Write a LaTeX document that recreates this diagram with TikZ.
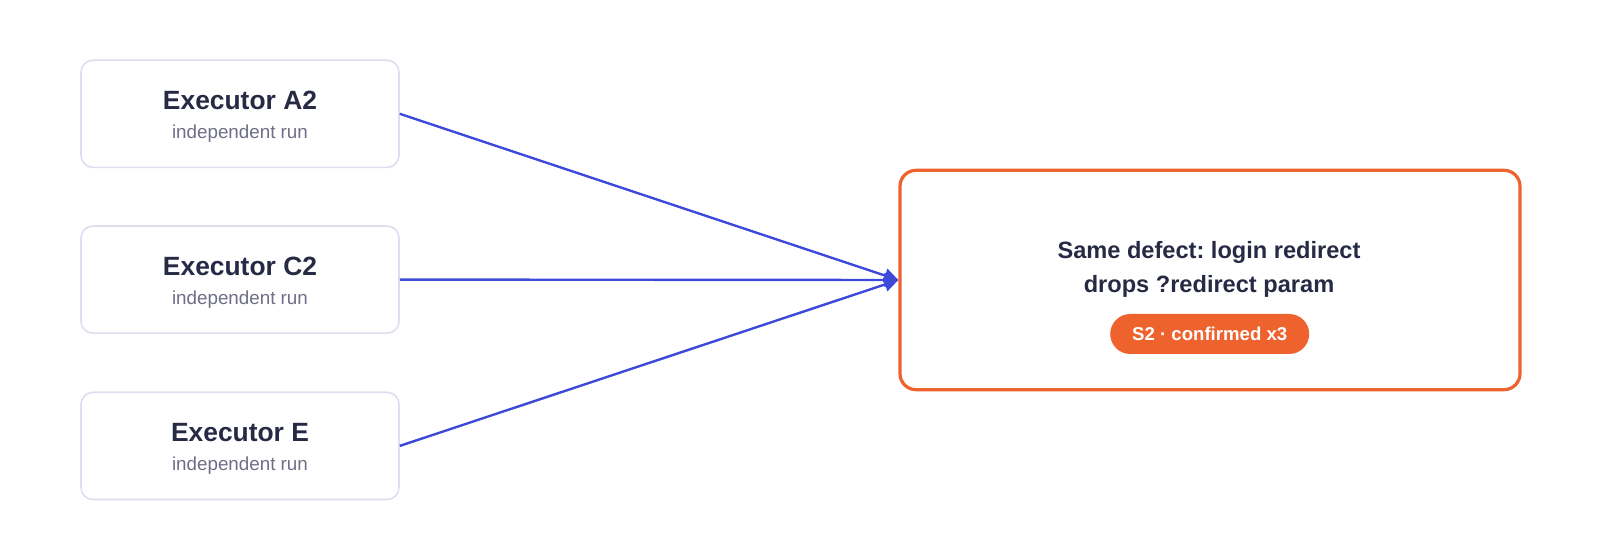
\documentclass[tikz,border=0pt]{standalone}
\usepackage{fontspec}
\setmainfont{Liberation Sans}
\usepackage{tikz}
\usetikzlibrary{arrows.meta}
\usetikzlibrary{positioning}
\usepackage{xcolor}
\frenchspacing

\definecolor{inkdark}{HTML}{272A44}
\definecolor{inkgray}{HTML}{6E6E88}
\definecolor{boxline}{HTML}{DEDEF0}
\definecolor{flowblue}{HTML}{3D4AD9}
\definecolor{defectorange}{HTML}{EE622E}

\newcommand{\exectext}[1]{{\fontsize{13.2}{14}\selectfont\bfseries\color{inkdark}\rule{0pt}{12.2pt}#1}\\[2.6pt]
	{\fontsize{9.4}{14.2}\selectfont\color{inkgray}independent run}}

\begin{document}
\begin{tikzpicture}[x=0.5pt,y=-0.5pt]
		\tikzstyle{execbox} = [draw=boxline, line width=0.8pt, rounded corners=6pt, fill=white,
			minimum width=159pt, minimum height=53.6pt, align=center, inner sep=0pt]
		\tikzstyle{defectbox} = [draw=defectorange, line width=1.6pt, rounded corners=8pt, fill=white,
			minimum width=310pt, minimum height=109.7pt, inner sep=0pt]
		\tikzstyle{badge} = [fill=defectorange, rounded corners=10pt, minimum width=99.5pt,
			minimum height=20pt, inner sep=0pt, text=white, font=\fontsize{9.3}{11}\selectfont\bfseries]
		\tikzstyle{flow} = [line width=1.2pt, flowblue, -{Triangle[length=7pt,width=7pt]}]

		\useasboundingbox (0,0) rectangle (1600,560);

		\node[execbox] (a2) at (240,113.8) {\exectext{Executor A2}};
		\node[execbox] (c2) at (240,279.6) {\exectext{Executor C2}};
		\node[execbox] (e) at (240,445.9) {\exectext{Executor E}};

		\node[defectbox] (defect) at (1210,280) {};
		\node[align=center, text=inkdark, font=\fontsize{11.8}{17}\selectfont\bfseries]
			(finding) at (1209,269) {Same defect: login redirect\\drops ?redirect param};
		\node[badge] (sev) at (1209.7,334) {S2 · confirmed x3};

		\draw [flow] (a2.east) -- (defect.west);
		\draw [flow] (c2.east) -- (defect.west);
		\draw [flow] (e.east) -- (defect.west);

\end{tikzpicture}
\end{document}
